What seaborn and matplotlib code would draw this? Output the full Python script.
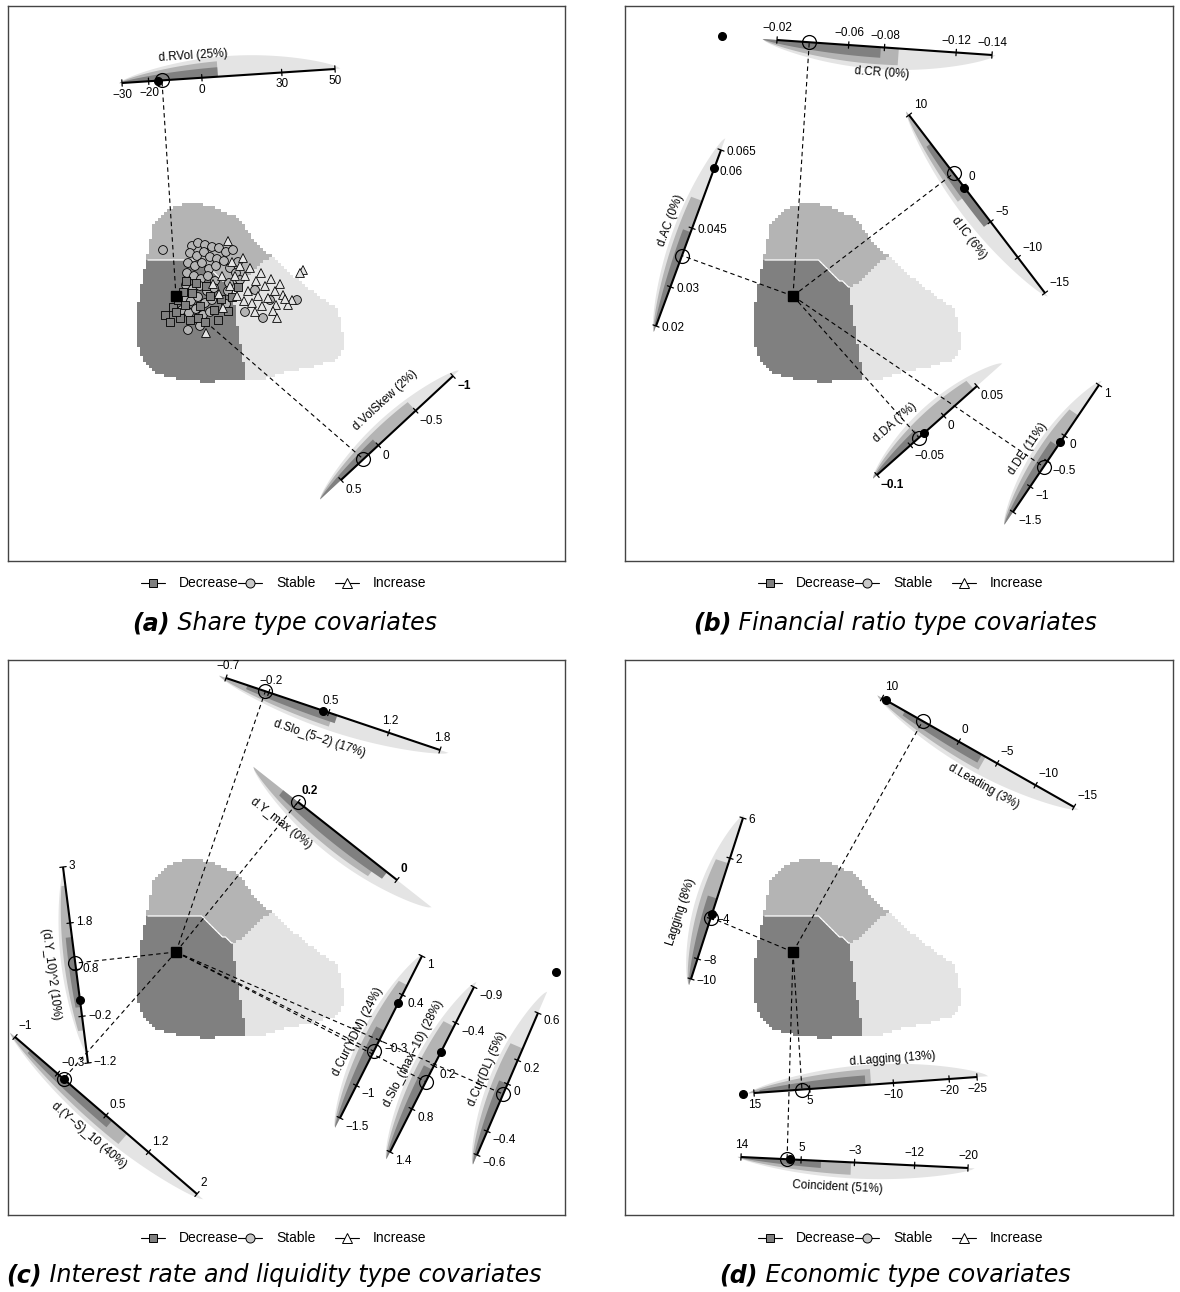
import numpy as np
import pandas as pd
import matplotlib
matplotlib.use("Agg")
import matplotlib.pyplot as plt
from matplotlib.path import Path
import seaborn as sns

sns.set_theme(style="white")
plt.rcParams["font.family"] = ["Liberation Sans", "DejaVu Sans"]
plt.rcParams["text.color"] = "black"

# ---------------------------------------------------------------- data
CLASSES = ["Decrease", "Stable", "Increase"]
CLASS_COLOURS = ["#808080", "#b4b4b4", "#e4e4e4"]
CLASS_MARKERS = ["s", "o", "^"]
LEGEND_FILLS = ["#808080", "#c8c8c8", "#ffffff"]

PANEL_TAGS = ["(a)", "(b)", "(c)", "(d)"]
PANEL_CAPTIONS = ["Share type covariates",
                  "Financial ratio type covariates",
                  "Interest rate and liquidity type covariates",
                  "Economic type covariates"]

AXIS_NAMES = ["d.RVol (25%)", "d.VolSkew (2%)",
              "d.CR (0%)", "d.AC (0%)", "d.IC (6%)", "d.DA (7%)", "d.DE (11%)",
              "d.Slo_(5\u22122) (17%)", "d.Y_max (0%)", "(d.Y_10)^2 (10%)",
              "d.(Y\u2212S)_10 (40%)", "d.Cur(YDM) (24%)",
              "d.Slo_(max\u221210) (28%)", "d.Cur(DL) (5%)",
              "d.Leading (3%)", "Lagging (8%)", "d.Lagging (13%)",
              "Coincident (51%)"]
AXIS_PANEL = [0, 0, 1, 1, 1, 1, 1, 2, 2, 2, 2, 2, 2, 2, 3, 3, 3, 3]

AXIS_TICKS = [[-30, -20, 0, 30, 50], [0.5, 0, -0.5, -1],
              [-0.02, -0.06, -0.08, -0.12, -0.14],
              [0.065, 0.06, 0.045, 0.03, 0.02],
              [10, 0, -5, -10, -15], [-0.1, -0.05, 0, 0.05],
              [-1.5, -1, -0.5, 0, 1],
              [-0.7, -0.2, 0.5, 1.2, 1.8], [0.2, 0],
              [3, 1.8, 0.8, -0.2, -1.2], [-1, -0.3, 0.5, 1.2, 2],
              [1, 0.4, -0.3, -1, -1.5], [-0.9, -0.4, 0.2, 0.8, 1.4],
              [0.6, 0.2, 0, -0.4, -0.6],
              [10, 0, -5, -10, -15], [6, 2, -4, -8, -10],
              [15, 5, -10, -20, -25], [14, 5, -3, -12, -20]]

# predicted value of the focal observation on each axis (open circle)
PREDICTED = [-15, 0.2, -0.038, 0.038, 1.8, -0.037, -0.61,
             -0.24, 0.2, 0.94, -0.2, -0.47, 0.42, -0.085,
             4.7, -3.9, 6.4, 7.1]
# observed value of the focal observation (filled dot)
OBSERVED = [-16.5, None, 0.0106, 0.0604, -0.2, -0.029, -0.12,
            0.43, None, 0.15, -0.2, 0.27, 0.0, 0.95,
            9.5, -3.55, 17.0, 6.7]

# predicted class along each axis: full band, Stable part, Decrease part
BAND_EXTENT = [(-31, 52), (0.78, -1.08), (-0.012, -0.142), (0.0185, 0.068),
               (10.5, -15.5), (-0.106, 0.088), (-1.75, 1.08),
               (-0.78, 1.9), (0.29, -0.07), (2.9, -1.0), (-1.08, 2.1),
               (-1.65, 1.02), (1.5, -0.97), (-0.68, 0.78),
               (10.6, -15.6), (-10.6, 6.3), (16, -27), (14.5, -21)]
BAND_STABLE = [(-31, 6), (0.78, -0.5), (-0.012, -0.088), (0.0185, 0.052),
               (10.5, -1), (-0.106, 0.045), (-1.75, 0.4),
               (-0.78, 0.55), (0.29, 0.04), (2.6, -0.5), (-1.08, 0.85),
               (-1.65, 0.55), (1.5, -0.35), (-0.68, 0.3),
               (10.6, -3.5), (-10.6, 1.5), (16, -6), (14.5, -2.5)]
BAND_DECREASE = [(-31, 6), (0.78, 0.0), (-0.012, -0.078), (0.0185, 0.044),
                 (6, -5), (-0.106, -0.035), (-1.75, -0.2),
                 (-0.45, 0.6), (0.23, 0.02), (1.5, 0.0), (-0.75, 0.6),
                 (-1.65, -0.15), (1.5, 0.25), (-0.68, 0.0),
                 (7, -3), (-10.6, -2), (14, -5), (14, 2)]

BOLD_TICKS = {(1, -1), (5, -0.1), (8, 0.2), (8, 0)}

# biplot scores of the share-type sample (panel a)
STABLE_X = [163, 192, 198, 205, 212, 219, 226, 233, 190, 197, 204, 210, 217,
            224, 238, 188, 195, 202, 209, 216, 230, 236, 187, 194, 201, 208,
            215, 229, 240, 186, 193, 200, 207, 214, 228, 184, 191, 198, 205,
            212, 226, 182, 189, 196, 203, 210, 188, 200, 255, 263, 270, 245,
            297]
STABLE_Y = [250, 246, 243, 245, 247, 248, 252, 250, 253, 256, 252, 257, 259,
            261, 262, 263, 266, 263, 269, 266, 268, 273, 273, 276, 279, 276,
            281, 283, 280, 285, 289, 286, 291, 288, 291, 298, 301, 297, 303,
            300, 304, 310, 313, 309, 315, 312, 330, 326, 290, 318, 300, 312,
            300]
DECREASE_X = [165, 173, 178, 183, 185, 190, 198, 205, 218, 180, 192, 200,
              210, 221, 228, 186, 196, 206, 232, 238, 176, 170, 214]
DECREASE_Y = [315, 307, 300, 292, 305, 320, 318, 322, 320, 318, 293, 306,
              296, 299, 311, 281, 283, 286, 297, 287, 312, 322, 310]
INCREASE_X = [228, 303, 300, 292, 288, 240, 245, 250, 256, 248, 261, 265,
              271, 258, 275, 280, 268, 276, 283, 262, 252, 243, 235, 222,
              230, 213, 219, 273, 285, 232, 244, 206, 223, 237, 255, 277]
INCREASE_Y = [241, 270, 273, 300, 305, 266, 276, 268, 281, 291, 273, 286,
              279, 296, 291, 284, 298, 305, 295, 306, 303, 258, 276, 276,
              286, 284, 294, 311, 299, 262, 301, 333, 308, 296, 312, 318]

# ---------------------------------------------------------------- layout
FIG_W, FIG_H = 1180, 1292
PANEL_BOXES = [(8, 6, 565, 561), (625, 6, 1173, 561),
               (8, 660, 565, 1215), (625, 660, 1173, 1215)]
FOCAL = [(176, 296), (793, 296), (176, 952), (793, 952)]
CAPTION_CENTRE = [284.5, 895, 274, 895]
CAPTION_Y = [623, 623, 1275, 1275]
LEGEND_X0 = [153, 770, 153, 770]      # first legend symbol
LEGEND_Y = [583, 583, 1238, 1238]
LEGEND_STEP = 97

AXIS_START = [(122, 83), (341, 480), (777, 40), (721, 150), (909, 115),
              (877, 475), (1013, 512), (226, 678), (298, 802), (63, 867),
              (15, 1037), (422, 956), (474, 987), (538, 1013), (882, 698),
              (743, 818), (754, 1093), (741, 1157)]
AXIS_END = [(335, 69), (453, 376), (992, 55), (656, 326), (1045, 293),
            (977, 386), (1099, 385), (440, 750), (397, 880), (88, 1063),
            (197, 1194), (340, 1118), (390, 1152), (477, 1155), (1074, 807),
            (691, 979), (977, 1077), (968, 1168)]
LABEL_SIDE = [1, 1, -1, -1, -1, 1, 1, -1, -1, -1, -1, -1, -1, -1, -1, -1, 1, -1]
TITLE_AT = [(0.34, 23), (0.57, 28), (0.495, 26), (0.445, 23), (0.6, 27),
            (0.36, 27), (0.4, 23), (0.48, 28), (0.0, 27), (0.53, 26),
            (0.5, 26), (0.53, 23), (0.47, 24), (0.46, 25), (0.6, 27),
            (0.64, 30), (0.63, 24), (0.43, 26)]
BAND_WIDTH = [20, 17, 22, 17, 18, 19, 18, 17, 22, 14, 18, 19, 19, 19, 19,
              20, 20, 16]

# region outline around the focal point (pixels, y downwards)
BLOB = [(-14, -82), (0, -91), (20, -93), (40, -88), (58, -80), (70, -68),
        (80, -52), (98, -38), (120, -18), (142, 0), (160, 12), (166, 30),
        (168, 52), (160, 64), (140, 70), (110, 76), (85, 84), (60, 84),
        (30, 86), (5, 84), (-18, 78), (-30, 68), (-37, 55), (-39, 35),
        (-38, 10), (-35, -10), (-32, -25), (-29, -38), (-26, -55), (-23, -70)]

TXT = 8.5
MINUS = "\u2212"


def fmt(v):
    return f"{v:g}".replace("-", MINUS)


def geometry(k):
    p0 = np.array(AXIS_START[k], float)
    p1 = np.array(AXIS_END[k], float)
    u = (p1 - p0) / np.linalg.norm(p1 - p0)
    n = np.array([-u[1], u[0]])
    return p0, p1, u, n


def value_xy(k, v):
    t = AXIS_TICKS[k]
    p0, p1, _, _ = geometry(k)
    frac = (np.asarray(v, float) - t[0]) / (t[-1] - t[0])
    return p0 + np.multiply.outer(frac, p1 - p0)


def classify(dx, dy):
    light = np.where(dy <= -6, dx > 56 + (-6 - dy) * 42 / 37,
                     dx > 56 + (dy + 6) * 14 / 89)
    yb = np.where(dx <= 25, -35, -35 + (dx - 25) * 27 / 31)
    dark = (~light) & (dy > yb)
    return np.where(light, 2, np.where(dark, 0, 1))


def draw_regions(ax, fx, fy):
    step = 3
    xs = np.arange(-45, 175, step) + step / 2
    ys = np.arange(-99, 96, step) + step / 2
    X, Y = np.meshgrid(xs, ys)
    inside = Path(BLOB).contains_points(
        np.column_stack([X.ravel(), Y.ravel()])).reshape(X.shape)
    cls = classify(X, Y)
    rgba = np.zeros(X.shape + (4,))
    for c, col in enumerate(CLASS_COLOURS):
        rgb = matplotlib.colors.to_rgb(col)
        sel = (cls == c) & inside
        rgba[sel, :3] = rgb
        rgba[sel, 3] = 1.0
    ax.imshow(rgba, extent=(fx + xs[0] - step / 2, fx + xs[-1] + step / 2,
                            fy + ys[-1] + step / 2, fy + ys[0] - step / 2),
              origin="upper", interpolation="nearest", aspect="auto", zorder=1)
    field = np.ma.masked_where((cls == 2) | ~inside, cls.astype(float))
    ax.contour(fx + X, fy + Y, field, levels=[0.5], colors="white",
               linewidths=0.9, zorder=1.5)


def band_layer(ax, k, va, vb, frac, colour):
    e0, e1 = BAND_EXTENT[k]
    _, _, _, n = geometry(k)
    side = -LABEL_SIDE[k]
    vs = np.linspace(va, vb, 90)
    s = np.clip((vs - e0) / (e1 - e0), 0, 1)
    th = BAND_WIDTH[k] * frac * np.sin(np.pi * s) ** 0.7
    base = value_xy(k, vs)
    outer = base + side * np.outer(th, n)
    poly = np.vstack([base, outer[::-1]])
    ax.fill(poly[:, 0], poly[:, 1], color=colour, lw=0, zorder=2)


def draw_axis(ax, k, focal):
    p0, p1, u, n = geometry(k)
    side = LABEL_SIDE[k]
    # prediction bands
    band_layer(ax, k, *BAND_EXTENT[k], 1.0, CLASS_COLOURS[2])
    band_layer(ax, k, *BAND_STABLE[k], 0.78, CLASS_COLOURS[1])
    band_layer(ax, k, *BAND_DECREASE[k], 0.48, CLASS_COLOURS[0])
    # projection of the focal observation
    pred = value_xy(k, PREDICTED[k])
    ax.plot([focal[0], pred[0]], [focal[1], pred[1]], color="black",
            lw=0.8, ls=(0, (4, 3)), zorder=3)
    # calibrated axis
    ax.plot([p0[0], p1[0]], [p0[1], p1[1]], color="black", lw=1.5,
            solid_capstyle="butt", zorder=4)
    dn = side * n
    ha = "left" if dn[0] > 0.35 else ("right" if dn[0] < -0.35 else "center")
    va = "top" if dn[1] > 0.35 else ("bottom" if dn[1] < -0.35 else "center")
    for t in AXIS_TICKS[k]:
        q = value_xy(k, t)
        a, b = q - 3.2 * n, q + 3.2 * n
        ax.plot([a[0], b[0]], [a[1], b[1]], color="black", lw=0.9, zorder=4)
        lab = q + dn * 6
        ax.text(lab[0], lab[1], fmt(t), ha=ha, va=va, fontsize=TXT,
                fontweight="bold" if (k, t) in BOLD_TICKS else "normal",
                zorder=6)
    # axis title, written along the axis on the band side
    f, d = TITLE_AT[k]
    c = p0 + f * (p1 - p0) - side * n * d
    ang = np.degrees(np.arctan2(-u[1], u[0]))
    if ang > 90:
        ang -= 180
    elif ang <= -90:
        ang += 180
    ax.text(c[0], c[1], AXIS_NAMES[k], rotation=ang, rotation_mode="anchor",
            ha="center", va="center", fontsize=TXT, zorder=6)
    ax.plot(pred[0], pred[1], marker="o", ms=10, mfc="none", mec="black",
            mew=0.9, zorder=7)
    if OBSERVED[k] is not None:
        obs = value_xy(k, OBSERVED[k])
        ax.plot(obs[0], obs[1], marker="o", ms=5.5, color="black", zorder=7)


fig = plt.figure(figsize=(FIG_W / 100, FIG_H / 100), dpi=100)

# page overlay (pixel units) for legends and captions
page = fig.add_axes([0, 0, 1, 1])
page.set_xlim(0, FIG_W)
page.set_ylim(FIG_H, 0)
page.axis("off")

captions = []
for p, (x0, y0, x1, y1) in enumerate(PANEL_BOXES):
    ax = fig.add_axes([x0 / FIG_W, 1 - y1 / FIG_H, (x1 - x0) / FIG_W,
                       (y1 - y0) / FIG_H])
    fx, fy = FOCAL[p]
    draw_regions(ax, fx, fy)
    for k in range(len(AXIS_NAMES)):
        if AXIS_PANEL[k] == p:
            draw_axis(ax, k, FOCAL[p])
    if p == 0:
        pts = pd.DataFrame({
            "x": STABLE_X + DECREASE_X + INCREASE_X,
            "y": STABLE_Y + DECREASE_Y + INCREASE_Y,
            "Class": (["Stable"] * len(STABLE_X) + ["Decrease"] * len(DECREASE_X)
                      + ["Increase"] * len(INCREASE_X)),
        })
        sns.scatterplot(data=pts, x="x", y="y", hue="Class", style="Class",
                        hue_order=CLASSES, style_order=CLASSES,
                        palette=dict(zip(CLASSES, CLASS_COLOURS)),
                        markers=dict(zip(CLASSES, CLASS_MARKERS)),
                        s=40, edgecolor="black", linewidth=0.6, legend=False,
                        ax=ax, zorder=5)
    ax.plot(fx, fy, marker="s", ms=7.5, color="black", zorder=8)
    ax.set_xlim(x0, x1)
    ax.set_ylim(y1, y0)
    ax.set_xticks([])
    ax.set_yticks([])
    ax.set_xlabel("")
    ax.set_ylabel("")
    for sp in ax.spines.values():
        sp.set_visible(True)
        sp.set_color("#444444")
        sp.set_linewidth(1.0)

    # legend row: line-and-symbol key followed by the class name
    for i, name in enumerate(CLASSES):
        cx = LEGEND_X0[p] + i * LEGEND_STEP
        ly = LEGEND_Y[p]
        page.plot([cx - 12, cx + 12], [ly, ly], color="black", lw=0.8)
        page.plot(cx, ly, marker=CLASS_MARKERS[i], ms=5.5 if i == 0 else 6.5,
                  mfc=LEGEND_FILLS[i], mec="black", mew=0.7)
        page.text(cx + 26, ly, name, fontsize=10, ha="left", va="center")

    # caption: bold tag followed by the italic description
    tag = page.text(CAPTION_CENTRE[p], CAPTION_Y[p], PANEL_TAGS[p],
                    fontsize=17, fontweight="bold", style="italic",
                    family="DejaVu Sans", ha="left", va="center")
    rest = page.annotate(" " + PANEL_CAPTIONS[p], xy=(1, 0), xycoords=tag,
                         ha="left", va="bottom", fontsize=17, style="italic",
                         family="DejaVu Sans", annotation_clip=False)
    captions.append((tag, rest))

# centre each caption line under its panel
renderer = fig.canvas.get_renderer()
for p, (tag, rest) in enumerate(captions):
    width_px = (tag.get_window_extent(renderer).width
                + rest.get_window_extent(renderer).width)
    tag.set_x(CAPTION_CENTRE[p] - width_px / 2)

fig.savefig("out.png", dpi=100)
